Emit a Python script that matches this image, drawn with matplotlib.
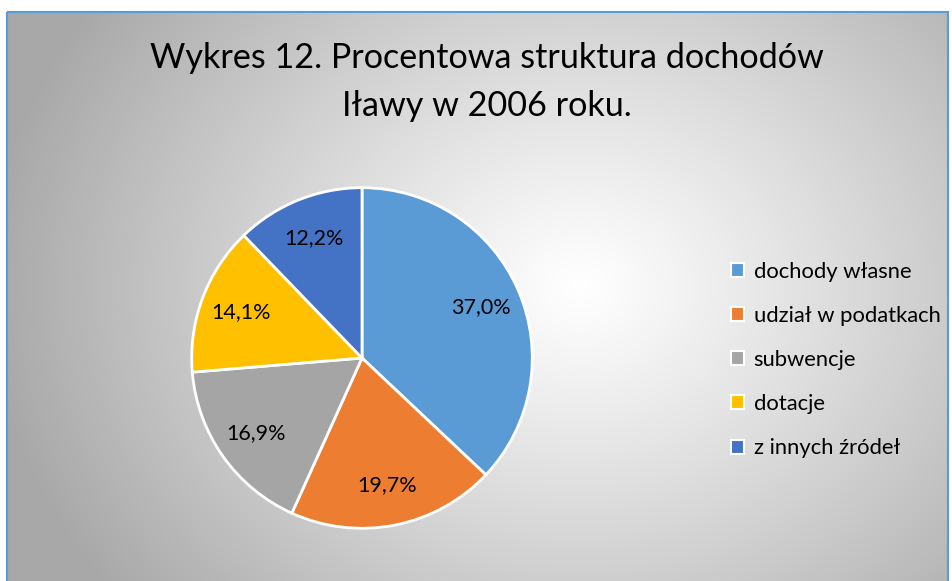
import numpy as np
import matplotlib
matplotlib.use('Agg')
import matplotlib.pyplot as plt
from matplotlib.patches import Rectangle, Patch

# Data
categories = ['dochody własne', 'udział w podatkach', 'subwencje', 'dotacje', 'z innych źródeł']
values = [37.0, 19.7, 16.9, 14.1, 12.2]
colors = ['#5B9BD5', '#ED7D31', '#A5A5A5', '#FFC000', '#4472C4']
title = 'Wykres 12. Procentowa struktura dochodów\nIławy w 2006 roku.'

W, H = 953, 581
plt.rcParams['font.family'] = ['Lato', 'DejaVu Sans']

fig = plt.figure(figsize=(W / 100, H / 100), dpi=100)
fig.patch.set_facecolor('white')

# Background with radial gradient (pixel coordinates, y downward)
bg = fig.add_axes([0, 0, 1, 1])
bg.set_xlim(0, W)
bg.set_ylim(H, 0)
bg.axis('off')
yy, xx = np.mgrid[0:H, 0:W]
d = np.sqrt(((xx - 580) / 1.0) ** 2 + ((yy - 280) / 0.85) ** 2)
g = 1 - 0.34 * np.clip(d / 600, 0, 1) ** 1.1
img = np.dstack([g, g, g])
bg.imshow(img, extent=(7, W - 5, H, 12), aspect='auto', zorder=0)
bg.add_patch(Rectangle((7, 12), W - 12, H + 10, fill=False, edgecolor='#5B9BD5', lw=1.5, zorder=1))

# Title
bg.text(487, 82, title, ha='center', va='center', fontsize=24.6, linespacing=1.6, zorder=2)

# Pie
cx, cy, r = 362, 358, 172
ax = fig.add_axes([(cx - r) / W, (H - cy - r) / H, 2 * r / W, 2 * r / H])
wedges, texts, autotexts = ax.pie(
    values, colors=colors, startangle=90, counterclock=False,
    autopct=lambda p: f'{p:.1f}%'.replace('.', ','), pctdistance=0.76,
    wedgeprops=dict(edgecolor='white', linewidth=2),
    textprops=dict(fontsize=15.5, color='black'))
ax.set_xlim(-1.01, 1.01)
ax.set_ylim(-1.01, 1.01)
ax.set_aspect('equal')

# Legend
handles = [Patch(facecolor=c, edgecolor='white', lw=1.5) for c in colors]
fig.legend(handles, categories, loc='upper left', bbox_to_anchor=(711 / W, 1 - 242 / H),
           frameon=False, fontsize=15.8, handlelength=0.6, handleheight=0.6,
           handletextpad=0.45, labelspacing=1.1)

plt.savefig('out.png', dpi=100)
